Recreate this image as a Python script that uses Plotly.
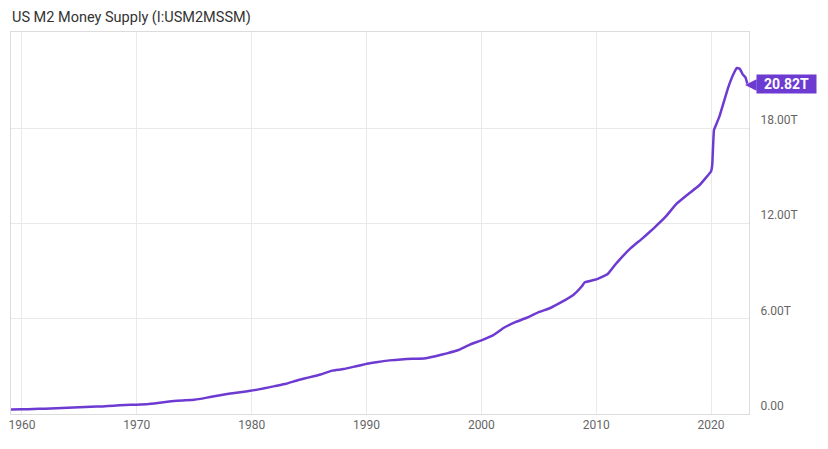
import plotly.graph_objects as go

years = [1959.0, 1960, 1961, 1962, 1963, 1964, 1965, 1966, 1967, 1968, 1969,
         1970, 1971, 1972, 1973, 1974, 1975, 1976, 1977, 1978, 1979,
         1980, 1981, 1982, 1983, 1984, 1985, 1986, 1987, 1988, 1989,
         1990, 1991, 1992, 1993, 1994, 1995, 1996, 1997, 1998, 1999,
         2000, 2001, 2002, 2003, 2004, 2005, 2006, 2007, 2008, 2008.75, 2009,
         2010, 2011, 2011.7, 2012, 2013, 2014, 2015, 2016, 2017, 2018, 2019,
         2020.0, 2020.1, 2020.25, 2020.42, 2020.75, 2021.0, 2021.5,
         2022.0, 2022.25, 2022.5, 2022.75, 2023.0, 2023.15]
m2_trillions = [0.286, 0.299, 0.313, 0.335, 0.362, 0.391, 0.423, 0.455, 0.477, 0.525, 0.567,
                0.589, 0.628, 0.710, 0.802, 0.856, 0.903, 1.016, 1.152, 1.271, 1.368,
                1.474, 1.601, 1.756, 1.906, 2.124, 2.306, 2.492, 2.733, 2.832, 2.993,
                3.160, 3.279, 3.379, 3.435, 3.484, 3.498, 3.638, 3.822, 4.030, 4.375,
                4.640, 4.950, 5.450, 5.800, 6.080, 6.420, 6.680, 7.060, 7.500, 8.050, 8.300,
                8.480, 8.820, 9.450, 9.700, 10.450, 11.050, 11.700, 12.400, 13.250, 13.850, 14.430,
                15.300, 15.700, 17.900, 18.200, 18.800, 19.400, 20.600,
                21.500, 21.800, 21.750, 21.400, 21.200, 20.820]

y_tick_vals = [0, 6, 12, 18]
y_tick_text = ["0.00", "6.00T", "12.00T", "18.00T"]
x_tick_vals = [1960, 1970, 1980, 1990, 2000, 2010, 2020]
x_tick_text = ["1960", "1970", "1980", "1990", "2000", "2010", "2020"]
title_text = "US M2 Money Supply (I:USM2MSSM)"
last_label = "20.82T"

purple = "#6d3bd2"

fig = go.Figure()
fig.add_trace(go.Scatter(
    x=years, y=m2_trillions, mode="lines",
    line=dict(color=purple, width=2.5, shape="spline", smoothing=0.3),
    hoverinfo="skip", showlegend=False,
))

fig.update_layout(
    width=820, height=441,
    margin=dict(l=0, r=79, t=24, b=35),
    paper_bgcolor="white", plot_bgcolor="white",
    font=dict(family="Roboto", size=12, color="#666666"),
    showlegend=False,
    xaxis=dict(
        range=[1959.05, 2023.3],
        tickvals=x_tick_vals, ticktext=x_tick_text,
        ticklabeloverflow="allow",
        showgrid=True, gridcolor="#e9e9e9", gridwidth=1,
        zeroline=False, showline=True, linecolor="#dcdcdc", linewidth=1, mirror=True,
        ticks="", tickfont=dict(size=12, color="#666666"),
        fixedrange=True,
    ),
    yaxis=dict(
        range=[0, 24.07], side="right",
        tickvals=y_tick_vals, ticktext=y_tick_text,
        ticklabelposition="outside top",
        showgrid=True, gridcolor="#e9e9e9", gridwidth=1,
        zeroline=False, showline=True, linecolor="#dcdcdc", linewidth=1, mirror=True,
        ticks="", ticklabelstandoff=8, tickfont=dict(size=12, color="#666666"),
        fixedrange=True,
    ),
    annotations=[
        dict(text=title_text, xref="paper", yref="paper", x=0, y=1, xshift=0, yshift=24,
             xanchor="left", yanchor="top", showarrow=False, borderpad=0,
             font=dict(family="Roboto", size=14.5, color="#333333")),
        dict(text="◀", xref="paper", yref="y", x=1, y=m2_trillions[-1],
             xanchor="right", yanchor="middle", xshift=10, showarrow=False,
             font=dict(family="DejaVu Sans", size=15, color=purple)),
        dict(text="<b>" + last_label + "</b>", xref="paper", yref="y", x=1, y=m2_trillions[-1],
             xanchor="left", yanchor="middle", xshift=7, showarrow=False,
             bgcolor=purple, borderpad=1, width=57, height=16,
             font=dict(family="Roboto", size=14, color="white")),
    ],
)

fig.write_html("out.html", config={"displayModeBar": False})
